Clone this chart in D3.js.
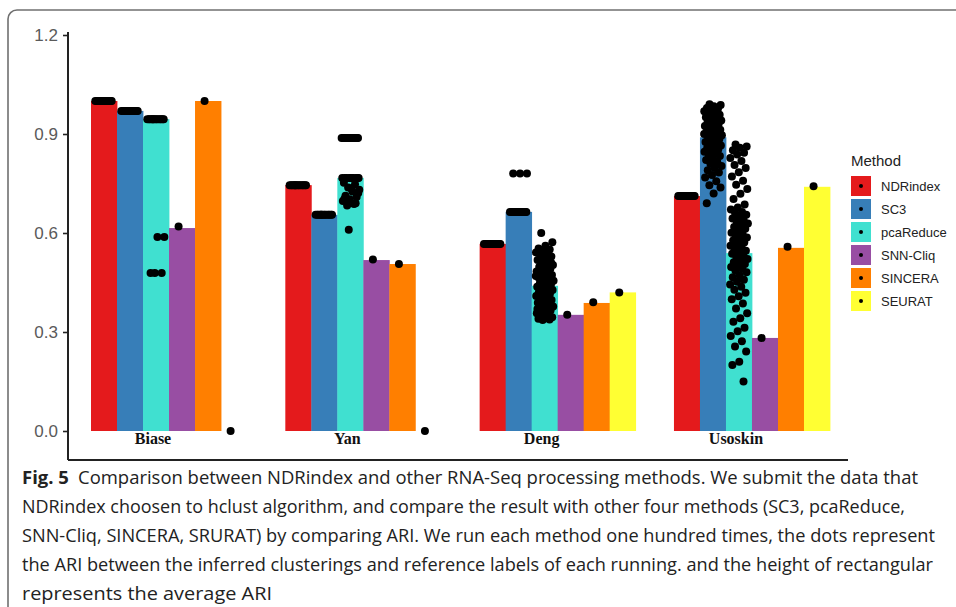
<!DOCTYPE html>
<html>
  <head>
    <meta charset="utf-8">
    <title>ARI comparison</title>
    <script src="https://cdn.jsdelivr.net/npm/d3@7"></script>
    <style>
      body { margin: 0; background: #fff; }
      .tick text { font-family: "Liberation Sans", Arial, sans-serif; }
    </style>
  </head>
  <body>
    <script>

      var groups = ["Biase", "Yan", "Deng", "Usoskin"];
      var methods = ["NDRindex", "SC3", "pcaReduce", "SNN-Cliq", "SINCERA", "SEURAT"];
      var methodColors = ["#e41a1c", "#377eb8", "#40e0d0", "#984ea3", "#ff7f00", "#ffff33"];
      var yTicks = [0.0, 0.3, 0.6, 0.9, 1.2];

      // mean ARI (bar heights), one per method
      var biaseMeans   = [1.0, 0.97, 0.945, 0.615, 1.0, 0.0];
      var yanMeans     = [0.745, 0.655, 0.767, 0.518, 0.506, 0.0];
      var dengMeans    = [0.567, 0.664, 0.44, 0.352, 0.388, 0.42];
      var usoskinMeans = [0.712, 0.89, 0.539, 0.282, 0.555, 0.74];

      // ARI of each run (dots), one list per method
      var biaseDots = [
        [1, 1, 1, 1, 1, 1, 1, 1, 1, 1, 1, 1, 1, 1],
        [0.97, 0.97, 0.97, 0.97, 0.97, 0.97, 0.97, 0.97, 0.97, 0.97, 0.97, 0.97, 0.97, 0.97],
        [0.945, 0.945, 0.945, 0.945, 0.945, 0.945, 0.945, 0.945, 0.945, 0.945, 0.945, 0.945, 0.945, 0.945,
         0.588, 0.588, 0.479, 0.479, 0.479],
        [0.62],
        [1.0],
        [0.0]
      ];
      var yanDots = [
        [0.745, 0.745, 0.745, 0.745, 0.745, 0.745, 0.745, 0.745, 0.745, 0.745, 0.745, 0.745, 0.745, 0.745],
        [0.655, 0.655, 0.655, 0.655, 0.655, 0.655, 0.655, 0.655, 0.655, 0.655, 0.655, 0.655, 0.655, 0.655],
        [0.888, 0.888, 0.888, 0.888, 0.888, 0.888, 0.888, 0.888, 0.888, 0.888, 0.888, 0.888, 0.888, 0.888,
         0.767, 0.767, 0.767, 0.767, 0.767, 0.767, 0.767, 0.767, 0.767, 0.767,
         0.752, 0.748, 0.738, 0.731, 0.726, 0.713, 0.709, 0.702, 0.697, 0.688, 0.683, 0.721, 0.735, 0.704, 0.69,
         0.61],
        [0.52],
        [0.506],
        [0.0]
      ];
      var dengDots = [
        [0.567, 0.567, 0.567, 0.567, 0.567, 0.567, 0.567, 0.567, 0.567, 0.567, 0.567, 0.567, 0.567, 0.567],
        [0.664, 0.664, 0.664, 0.664, 0.664, 0.664, 0.664, 0.664, 0.664, 0.664, 0.664, 0.664, 0.664, 0.664,
         0.78, 0.78, 0.78],
        [0.6, 0.572, 0.561, 0.553, 0.55, 0.546, 0.541, 0.538, 0.532, 0.529, 0.522, 0.518, 0.514, 0.507,
         0.503, 0.5, 0.497, 0.492, 0.488, 0.483, 0.48, 0.476, 0.473, 0.469, 0.466, 0.461, 0.458, 0.455,
         0.451, 0.448, 0.444, 0.441, 0.437, 0.433, 0.43, 0.427, 0.423, 0.42, 0.416, 0.412, 0.409, 0.404,
         0.401, 0.397, 0.392, 0.389, 0.385, 0.381, 0.377, 0.372, 0.369, 0.365, 0.361, 0.357, 0.352,
         0.348, 0.345, 0.342, 0.34, 0.338, 0.336, 0.47, 0.455, 0.43, 0.51, 0.39, 0.37, 0.535],
        [0.352],
        [0.39],
        [0.42]
      ];
      var usoskinDots = [
        [0.712, 0.712, 0.712, 0.712, 0.712, 0.712, 0.712, 0.712, 0.712, 0.712, 0.712, 0.712, 0.712, 0.712],
        [0.99, 0.988, 0.984, 0.979, 0.977, 0.972, 0.969, 0.966, 0.962, 0.958, 0.956, 0.951, 0.948, 0.945,
         0.941, 0.938, 0.934, 0.931, 0.927, 0.924, 0.92, 0.917, 0.913, 0.909, 0.906, 0.902, 0.899, 0.896,
         0.892, 0.889, 0.884, 0.881, 0.876, 0.872, 0.868, 0.865, 0.861, 0.857, 0.853, 0.849, 0.846, 0.842,
         0.837, 0.833, 0.826, 0.821, 0.815, 0.81, 0.803, 0.797, 0.79, 0.783, 0.776, 0.768, 0.757, 0.745,
         0.738, 0.72, 0.69, 0.96, 0.93, 0.9, 0.87],
        [0.868, 0.862, 0.858, 0.851, 0.843, 0.838, 0.827, 0.818, 0.806, 0.797, 0.784, 0.771, 0.758, 0.746,
         0.733, 0.719, 0.703, 0.686, 0.677, 0.671, 0.664, 0.659, 0.655, 0.648, 0.644, 0.639, 0.633, 0.629,
         0.624, 0.618, 0.613, 0.608, 0.601, 0.596, 0.592, 0.586, 0.582, 0.577, 0.571, 0.566, 0.561, 0.556,
         0.551, 0.546, 0.541, 0.537, 0.532, 0.527, 0.521, 0.516, 0.511, 0.506, 0.501, 0.497, 0.492, 0.486,
         0.481, 0.472, 0.466, 0.458, 0.452, 0.444, 0.437, 0.428, 0.419, 0.408, 0.399, 0.386, 0.371, 0.357,
         0.342, 0.331, 0.313, 0.302, 0.288, 0.272, 0.256, 0.241, 0.21, 0.2, 0.15],
        [0.282],
        [0.558],
        [0.742]
      ];

      var captionLines = [
        "Comparison between NDRindex and other RNA-Seq processing methods. We submit the data that",
        "NDRindex choosen to hclust algorithm, and compare the result with other four methods (SC3, pcaReduce,",
        "SNN-Cliq, SINCERA, SRURAT) by comparing ARI. We run each method one hundred times, the dots represent",
        "the ARI between the inferred clusterings and reference labels of each running. and the height of rectangular",
        "represents the average ARI"
      ];

      var meansByGroup = [biaseMeans, yanMeans, dengMeans, usoskinMeans];
      var dotsByGroup = [biaseDots, yanDots, dengDots, usoskinDots];

      var bars = [], dots = [];
      groups.forEach(function (g, gi) {
        methods.forEach(function (m, mi) {
          bars.push({group: g, method: m, value: meansByGroup[gi][mi]});
          dotsByGroup[gi][mi].forEach(function (v, i) {
            dots.push({group: g, method: m, value: v, index: i});
          });
        });
      });

      var width = 956, height = 607;
      var panelTop = 32, panelBottom = 460, axisX = 68, axisEnd = 848;

      var svg = d3.select("body").append("svg")
        .attr("width", width)
        .attr("height", height);

      // rounded frame round figure + caption
      svg.append("rect")
        .attr("x", 8).attr("y", 10)
        .attr("width", 1000).attr("height", 640)
        .attr("rx", 9)
        .attr("fill", "none")
        .attr("stroke", "#707070")
        .attr("stroke-width", 1.6);

      var yScale = d3.scaleLinear().domain([0, 1.2]).range([431, 35]);
      var xGroup = d3.scaleBand().domain(groups).range([91, 830]).paddingInner(0.197);
      var xMethod = d3.scaleBand().domain(methods).range([0, xGroup.bandwidth()]);
      var colorScale = d3.scaleOrdinal().domain(methods).range(methodColors);

      function jitter(i) {
        return (((i + 0.5) * 0.618034) % 1 - 0.5) * 18;
      }

      svg.append("g").selectAll("rect").data(bars).enter().append("rect")
        .attr("x", function (d) { return xGroup(d.group) + xMethod(d.method); })
        .attr("y", function (d) { return yScale(d.value); })
        .attr("width", xMethod.bandwidth() + 0.4)
        .attr("height", function (d) { return yScale(0) - yScale(d.value); })
        .attr("fill", function (d) { return colorScale(d.method); });

      svg.append("g").selectAll("circle").data(dots).enter().append("circle")
        .attr("cx", function (d) {
          return xGroup(d.group) + xMethod(d.method) + xMethod.bandwidth() / 2 + jitter(d.index);
        })
        .attr("cy", function (d) { return yScale(d.value); })
        .attr("r", 4)
        .attr("fill", "#000");

      // y axis
      var yAxis = d3.axisLeft(yScale)
        .tickValues(yTicks)
        .tickFormat(d3.format(".1f"))
        .tickSize(5)
        .tickPadding(5);
      var yg = svg.append("g").attr("transform", "translate(" + axisX + ",0)").call(yAxis);
      yg.select(".domain").remove();
      yg.selectAll(".tick line").attr("stroke", "#222").attr("stroke-width", 1.6);
      yg.selectAll(".tick text").attr("fill", "#5a5a5a").style("font-size", "17px");

      svg.append("line")
        .attr("x1", axisX).attr("x2", axisX)
        .attr("y1", panelTop).attr("y2", panelBottom)
        .attr("stroke", "#222").attr("stroke-width", 2);
      svg.append("line")
        .attr("x1", axisX).attr("x2", axisEnd)
        .attr("y1", panelBottom).attr("y2", panelBottom)
        .attr("stroke", "#222").attr("stroke-width", 2);

      // group labels
      svg.append("g").selectAll("text").data(groups).enter().append("text")
        .attr("x", function (d) { return xGroup(d) + xMethod("SC3") + 36; })
        .attr("y", 444)
        .attr("text-anchor", "middle")
        .style("font-family", "'Liberation Serif', 'Times New Roman', serif")
        .style("font-weight", "bold")
        .style("font-size", "16px")
        .attr("fill", "#111")
        .text(function (d) { return d; });

      // legend
      var legend = svg.append("g").attr("transform", "translate(851,0)");
      legend.append("text")
        .attr("x", 0).attr("y", 166)
        .style("font-family", "'Liberation Sans', Arial, sans-serif")
        .style("font-size", "15px")
        .attr("fill", "#222")
        .text("Method");
      var keys = legend.selectAll("g.key").data(methods).enter().append("g")
        .attr("class", "key")
        .attr("transform", function (d, i) { return "translate(0," + (176 + i * 23) + ")"; });
      keys.append("rect")
        .attr("width", 20).attr("height", 20)
        .attr("fill", function (d) { return colorScale(d); });
      keys.append("circle")
        .attr("cx", 10).attr("cy", 10).attr("r", 2)
        .attr("fill", "#000");
      keys.append("text")
        .attr("x", 30).attr("y", 15)
        .style("font-family", "'Liberation Sans', Arial, sans-serif")
        .style("font-size", "13px")
        .attr("fill", "#222")
        .text(function (d) { return d; });

      // caption
      var captionRight = [918, 905, 935, 933, 272];
      var cap = svg.append("g")
        .style("font-family", "'Open Sans', 'Noto Sans', sans-serif")
        .style("font-size", "18px")
        .attr("fill", "#222");
      captionLines.forEach(function (line, i) {
        var t = cap.append("text")
          .attr("x", 22)
          .attr("y", 484 + i * 29)
          .attr("textLength", captionRight[i] - 22)
          .attr("lengthAdjust", "spacingAndGlyphs");
        if (i === 0) {
          t.append("tspan").style("font-weight", "bold").text("Fig. 5");
          t.append("tspan").text("\u2002" + line);
        } else {
          t.text(line);
        }
      });

    </script>
  </body>
</html>
